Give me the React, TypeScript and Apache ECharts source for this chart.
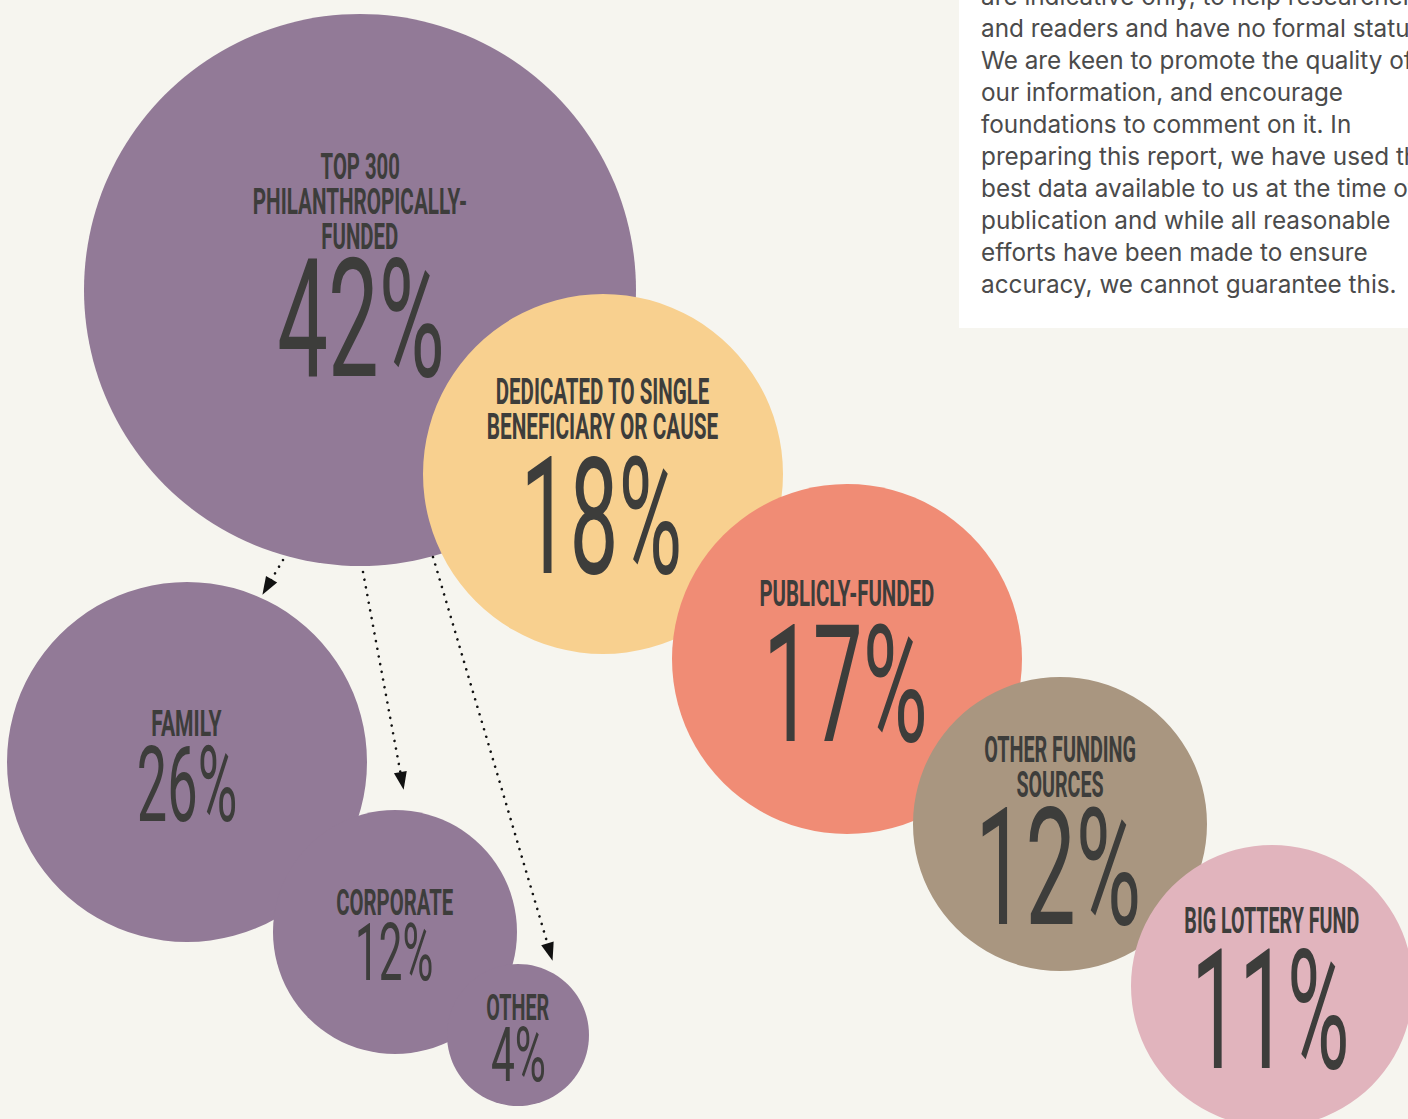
import React, { useEffect, useRef } from 'react';
import * as echarts from 'echarts';

// ---------- data ----------
const categories = [
  'TOP 300 PHILANTHROPICALLY-FUNDED',
  'DEDICATED TO SINGLE BENEFICIARY OR CAUSE',
  'PUBLICLY-FUNDED',
  'OTHER FUNDING SOURCES',
  'BIG LOTTERY FUND',
  'FAMILY',
  'CORPORATE',
  'OTHER',
];
const labelLines = [
  ['TOP 300', 'PHILANTHROPICALLY-', 'FUNDED'],
  ['DEDICATED TO SINGLE', 'BENEFICIARY OR CAUSE'],
  ['PUBLICLY-FUNDED'],
  ['OTHER FUNDING', 'SOURCES'],
  ['BIG LOTTERY FUND'],
  ['FAMILY'],
  ['CORPORATE'],
  ['OTHER'],
];
const shares = [42, 18, 17, 12, 11, 26, 12, 4];
const bubbleX = [360, 603, 847, 1060, 1272, 187, 395, 518];
const bubbleY = [290, 474, 659, 824, 986, 762, 932, 1035];
const bubbleR = [276, 180, 175, 147, 141, 180, 122, 71];
const arrowFrom = [
  [283, 560],
  [363, 572],
  [433, 557],
];
const arrowTo = [
  [267, 587],
  [402, 781],
  [550, 952],
];
const noteLines = [
  'are indicative only, to help researchers',
  'and readers and have no formal status.',
  'We are keen to promote the quality of',
  'our information, and encourage',
  'foundations to comment on it. In',
  'preparing this report, we have used the',
  'best data available to us at the time of',
  'publication and while all reasonable',
  'efforts have been made to ensure',
  'accuracy, we cannot guarantee this.',
];

// ---------- styles / layout ----------
const BG = '#f6f5ef';
const INK = '#3d3d3b';
const bubbleColors = ['#927a97', '#f8d08f', '#f08c75', '#a99680', '#e1b4bd', '#927a97', '#927a97', '#927a97'];
const labelDy = [-123.5, -83, -65.7, -75.2, -66, -39.2, -30, -28.3];
const labelGap = 35;
const labelCap = 26;
const labelWidths = [[78, 212, 75], [212.7, 230], [172.7], [150, 86], [173], [69], [116], [61.7]];
const pctDy = [27.5, 41, 23.5, 41.5, 22.3, 21.3, 19, 19.2];
const pctCap = [119, 117, 118, 117, 120, 76.7, 57, 55];
const pctWidths = [162, 151, 154, 155, 148, 96, 73, 52.3];
const FAMILY = 'Roboto';
const LABEL_WEIGHT = 'bold';
const PCT_WEIGHT = 'normal';

const ctx = document.createElement('canvas').getContext('2d') as CanvasRenderingContext2D;

function fitText(text: string, weight: string, family: string, capH: number, width: number) {
  ctx.font = `${weight} 100px ${family}`;
  ctx.textAlign = 'center';
  const capAsc = ctx.measureText('H').actualBoundingBoxAscent || 71;
  const fs = (capH / capAsc) * 100;
  const k = fs / 100;
  const m = ctx.measureText(text);
  const ink = (m.actualBoundingBoxLeft + m.actualBoundingBoxRight) * k;
  const scaleX = width / ink;
  const inkCenter = ((m.actualBoundingBoxRight - m.actualBoundingBoxLeft) / 2) * k * scaleX;
  const fa = (m as any).fontBoundingBoxAscent;
  const fd = (m as any).fontBoundingBoxDescent;
  const central = fa != null && fd != null ? ((fa - fd) / 2) * k : 0.34 * fs;
  return { fs, scaleX, dx: -inkCenter, dy: capH / 2 - central };
}

function makeText(text: string, weight: string, cx: number, capCenter: number, capH: number, width: number) {
  const f = fitText(text, weight, FAMILY, capH, width);
  return {
    type: 'text',
    x: cx + f.dx,
    y: capCenter + f.dy,
    scaleX: f.scaleX,
    scaleY: 1,
    style: {
      text,
      fill: INK,
      fontSize: f.fs,
      fontFamily: FAMILY,
      fontWeight: weight,
      align: 'center',
      verticalAlign: 'middle',
    },
  };
}

function buildOption() {
  const bubbleData = bubbleX.map((x, i) => ({
    name: categories[i],
    value: [x, bubbleY[i], bubbleR[i], shares[i], i],
  }));

  // note box
  const noteFamily = 'Inter';
  ctx.font = `400 100px ${noteFamily}`;
  ctx.textAlign = 'left';
  const mLast = ctx.measureText(noteLines[noteLines.length - 1]);
  let noteFs = (413 / (mLast.actualBoundingBoxLeft + mLast.actualBoundingBoxRight)) * 100;
  noteFs = Math.max(22, Math.min(26, noteFs));
  const fa = (mLast as any).fontBoundingBoxAscent;
  const fd = (mLast as any).fontBoundingBoxDescent;
  const noteCentral = fa != null && fd != null ? ((fa - fd) / 2) * (noteFs / 100) : 0.36 * noteFs;

  const noteGraphics: any[] = [
    {
      type: 'rect',
      shape: { x: 959, y: -10, width: 470, height: 338 },
      style: { fill: '#ffffff' },
      z: 10,
    },
    ...noteLines.map((t, i) => ({
      type: 'text',
      x: 981,
      y: 5 + 32 * i - noteCentral,
      z: 11,
      style: {
        text: t,
        fill: '#4b4b4b',
        fontSize: noteFs,
        fontFamily: noteFamily,
        fontWeight: 400,
        align: 'left',
        verticalAlign: 'middle',
      },
    })),
  ];

  return {
    animation: false,
    backgroundColor: BG,
    grid: { left: 0, right: 0, top: 0, bottom: 0 },
    xAxis: { type: 'value', min: 0, max: 1408, show: false },
    yAxis: { type: 'value', min: 0, max: 1119, inverse: true, show: false },
    graphic: noteGraphics,
    series: [
      {
        type: 'custom',
        coordinateSystem: 'cartesian2d',
        clip: false,
        silent: true,
        data: bubbleData,
        renderItem: (params: any, api: any) => {
          const i = api.value(4) as number;
          const c = api.coord([api.value(0), api.value(1)]);
          const r = api.size([api.value(2), 0])[0];
          const children: any[] = [
            {
              type: 'circle',
              shape: { cx: c[0], cy: c[1], r },
              style: { fill: bubbleColors[i] },
            },
          ];
          labelLines[i].forEach((line, j) => {
            children.push(
              makeText(line, LABEL_WEIGHT, c[0], c[1] + labelDy[i] + j * labelGap, labelCap, labelWidths[i][j])
            );
          });
          children.push(makeText(`${api.value(3)}%`, PCT_WEIGHT, c[0], c[1] + pctDy[i], pctCap[i], pctWidths[i]));
          return { type: 'group', children };
        },
        z: 2,
      },
      {
        type: 'lines',
        coordinateSystem: 'cartesian2d',
        z: 5,
        silent: true,
        symbol: ['none', 'triangle'],
        symbolSize: [
          [13, 18],
          [13, 18],
        ],
        lineStyle: { color: '#111111', width: 2.6, type: [0.01, 7.8], cap: 'round', opacity: 1 },
        data: arrowFrom.map((f, i) => ({ coords: [f, arrowTo[i]] })),
      },
    ],
  };
}

export default function App() {
  const ref = useRef<HTMLDivElement>(null);
  useEffect(() => {
    const chart = echarts.init(ref.current as HTMLDivElement, null, { renderer: 'svg' });
    chart.setOption(buildOption() as any);
    return () => chart.dispose();
  }, []);
  return (
    <div
      ref={ref}
      style={{ position: 'fixed', left: 0, top: 0, width: 1408, height: 1119, background: BG }}
    />
  );
}
